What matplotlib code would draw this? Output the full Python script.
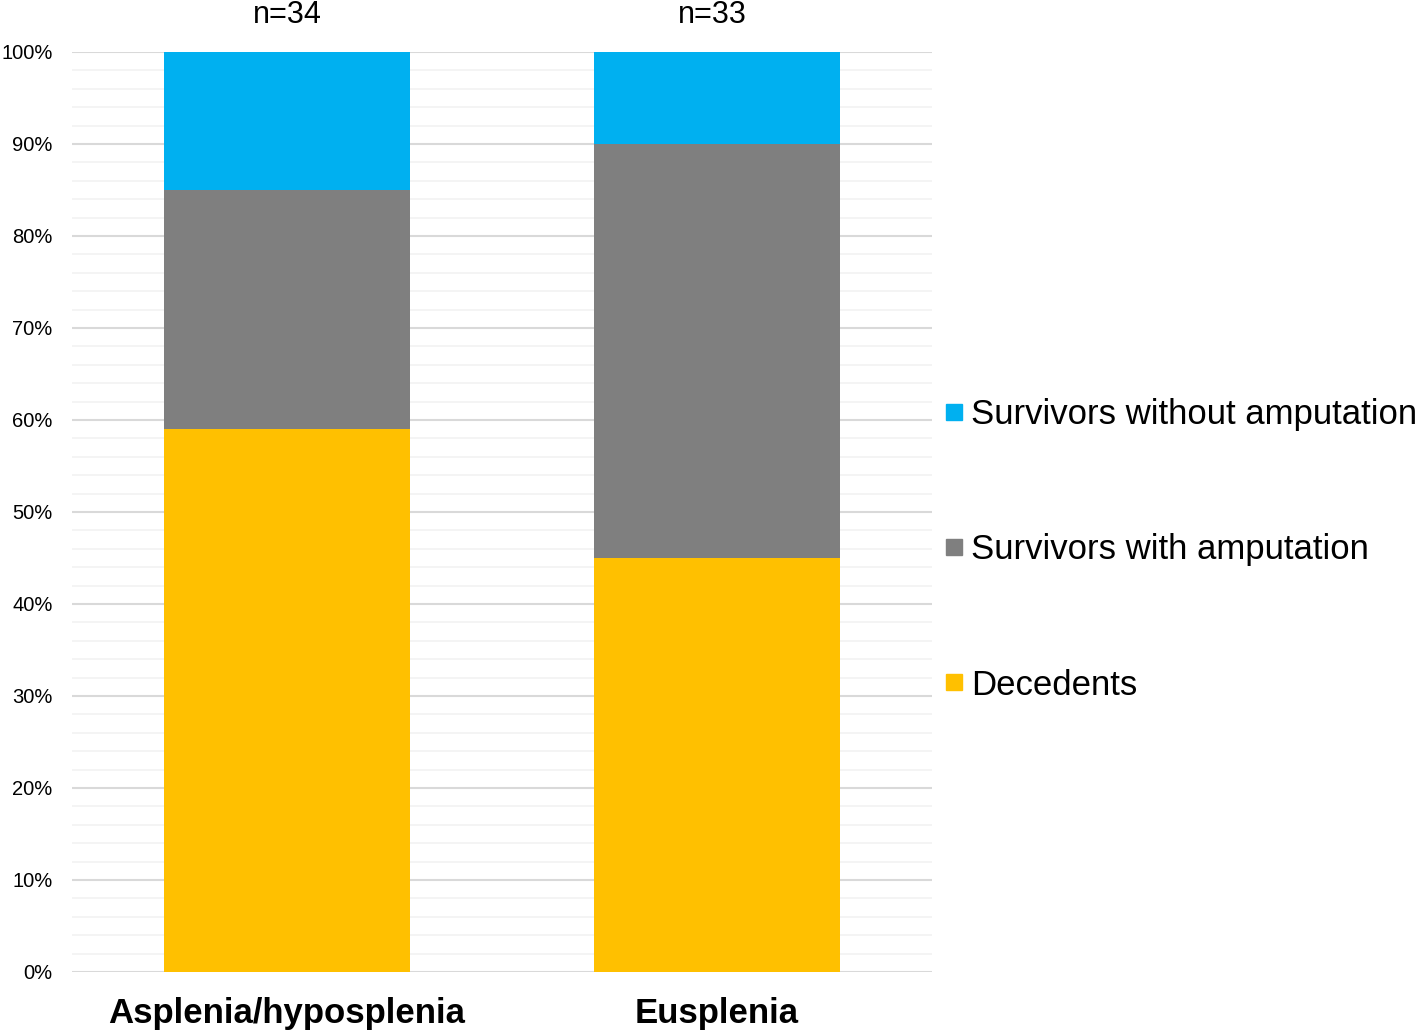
import matplotlib.pyplot as plt
import numpy as np
from matplotlib.lines import Line2D

plt.rcParams['font.family'] = ['Liberation Sans', 'DejaVu Sans']

# Data
groups = ["Asplenia/hyposplenia", "Eusplenia"]
group_n = ["n=34", "n=33"]
decedents = [59, 45]
with_amputation = [26, 45]
without_amputation = [15, 10]

# Colors
c_dec = "#FFC000"
c_amp = "#7F7F7F"
c_noamp = "#00B0F0"

fig = plt.figure(figsize=(14.18, 10.35), dpi=100)
ax = fig.add_axes([0.0508, 0.0609, 0.6065, 0.8889])

x = np.arange(len(groups))
width = 0.572
bottom2 = np.array(decedents) + np.array(with_amputation)
ax.bar(x, decedents, width, color=c_dec, zorder=3)
ax.bar(x, with_amputation, width, bottom=decedents, color=c_amp, zorder=3)
ax.bar(x, without_amputation, width, bottom=bottom2, color=c_noamp, zorder=3)

ax.set_xlim(-0.5, 1.5)
ax.set_ylim(0, 100)

# Gridlines
ax.set_yticks(np.arange(0, 101, 10))
ax.set_yticks(np.arange(0, 101, 2), minor=True)
ax.set_yticklabels([f"{v}%" for v in range(0, 101, 10)], fontsize=14.5)
ax.grid(axis='y', which='major', color='#d9d9d9', linewidth=1.5, zorder=0)
ax.grid(axis='y', which='minor', color='#f2f2f2', linewidth=1.2, zorder=0)
ax.tick_params(axis='y', which='both', length=0, pad=14)

ax.set_xticks(x)
ax.set_xticklabels(groups, fontsize=25, fontweight='bold')
ax.tick_params(axis='x', length=0, pad=18)

for s in ax.spines.values():
    s.set_visible(False)

# n labels above bars
for i, label in enumerate(group_n):
    ax.text(x[i] - 0.01 * i, 104, label, fontsize=22, ha='center', va='center', clip_on=False)

# Legend
handles = [
    Line2D([], [], marker='s', linestyle='none', markersize=12, color=c_noamp),
    Line2D([], [], marker='s', linestyle='none', markersize=12, color=c_amp),
    Line2D([], [], marker='s', linestyle='none', markersize=12, color=c_dec),
]
labels = ["Survivors without amputation", "Survivors with amputation", "Decedents"]
ax.legend(handles, labels, loc='center left', bbox_to_anchor=(1.013, 0.459),
          frameon=False, fontsize=25, labelspacing=2.95, handlelength=0.6,
          handletextpad=0.2, borderpad=0, borderaxespad=0)

fig.savefig("out.png", dpi=100)
